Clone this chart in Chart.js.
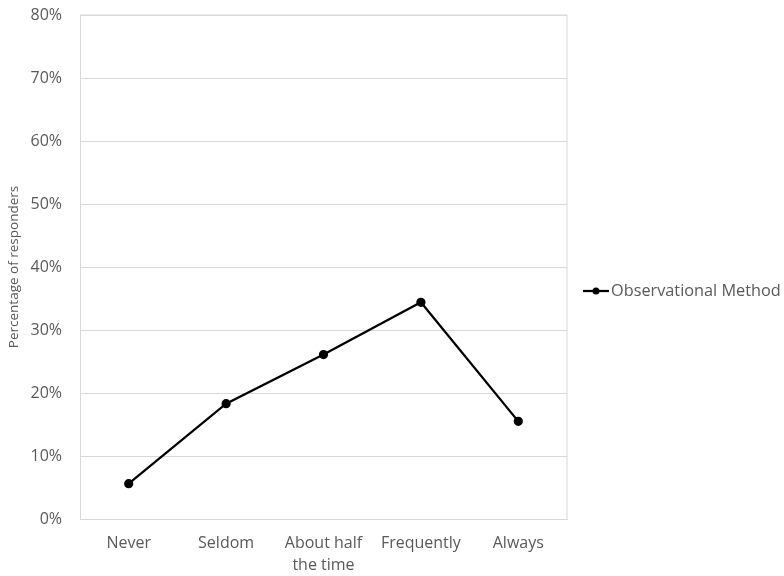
<!DOCTYPE html>
<html>
<head>
<meta charset="utf-8">
<script src="https://cdn.jsdelivr.net/npm/chart.js@4"></script>
<style>
  html, body { margin: 0; padding: 0; background: #fff; }
  #wrap { width: 784px; height: 576px; }
</style>
</head>
<body>
<div id="wrap"><canvas id="c" width="784" height="576"></canvas></div>
<script>
const categories = ["Never", "Seldom", ["About half", "the time"], "Frequently", "Always"];
const observationalMethod = [5.6, 18.3, 26.1, 34.4, 15.5];
const yTicks = [0, 10, 20, 30, 40, 50, 60, 70, 80];
const seriesName = "Observational Method";
const axisTitle = "Percentage of responders";

const FONT = "'Open Sans', 'Liberation Sans', sans-serif";
const TEXT = "#595959";
const GRID = "#d9d9d9";

// Legend drawn at the right of the plot, centred on the plot height
const sideLegend = {
  id: "sideLegend",
  afterDraw(chart) {
    const ctx = chart.ctx;
    const area = chart.chartArea;
    const ds = chart.data.datasets[0];
    const y = (area.top + area.bottom) / 2 + 24;
    const x0 = 583;
    ctx.save();
    ctx.strokeStyle = ds.borderColor;
    ctx.lineWidth = ds.borderWidth;
    ctx.beginPath();
    ctx.moveTo(x0, y);
    ctx.lineTo(x0 + 26, y);
    ctx.stroke();
    ctx.fillStyle = ds.pointBackgroundColor;
    ctx.beginPath();
    ctx.arc(x0 + 13, y, 3.5, 0, Math.PI * 2);
    ctx.fill();
    ctx.fillStyle = TEXT;
    ctx.font = "16.3px " + FONT;
    ctx.textBaseline = "middle";
    ctx.textAlign = "left";
    ctx.fillText(ds.label, x0 + 28, y);
    ctx.restore();
  }
};

new Chart(document.getElementById("c"), {
  type: "line",
  data: {
    labels: categories,
    datasets: [{
      label: seriesName,
      data: observationalMethod,
      borderColor: "#000000",
      borderWidth: 2.25,
      pointBackgroundColor: "#000000",
      pointBorderColor: "#000000",
      pointRadius: 3.5,
      pointHoverRadius: 3.5,
      tension: 0,
      fill: false
    }]
  },
  options: {
    responsive: false,
    animation: false,
    devicePixelRatio: 1,
    layout: { padding: { top: 15, right: 217, bottom: 0, left: 0 } },
    plugins: {
      legend: { display: false },
      tooltip: { enabled: false }
    },
    scales: {
      x: {
        type: "category",
        offset: true,
        grid: { display: false, drawTicks: false },
        border: { display: true, color: GRID, width: 1 },
        ticks: {
          color: TEXT,
          font: { family: FONT, size: 16, lineHeight: 1.35 },
          padding: 14,
          maxRotation: 0,
          autoSkip: false
        },
        afterFit(scale) { scale.height = 57; scale.paddingTop = 0; scale.paddingBottom = 0; }
      },
      y: {
        min: 0,
        max: 80,
        afterBuildTicks(scale) { scale.ticks = yTicks.map(v => ({ value: v })); },
        grid: { color: GRID, lineWidth: 1, drawTicks: false },
        border: { display: true, color: GRID, width: 1 },
        ticks: {
          color: TEXT,
          font: { family: FONT, size: 16 },
          padding: 18,
          callback: v => v + "%"
        },
        title: {
          display: true,
          text: axisTitle,
          color: TEXT,
          font: { family: FONT, size: 13.5 },
          padding: { top: 6, bottom: 0 }
        },
        afterFit(scale) { scale.width = 80; scale.paddingTop = 0; scale.paddingBottom = 0; }
      }
    }
  },
  plugins: [
    sideLegend,
    {
      // closes the plot frame on the top and right
      id: "frame",
      beforeDatasetsDraw(chart) {
        const { ctx, chartArea: a } = chart;
        ctx.save();
        ctx.strokeStyle = GRID;
        ctx.lineWidth = 1;
        ctx.beginPath();
        ctx.moveTo(a.left, a.top);
        ctx.lineTo(a.right, a.top);
        ctx.lineTo(a.right, a.bottom);
        ctx.stroke();
        ctx.restore();
      }
    }
  ]
});
</script>
</body>
</html>
